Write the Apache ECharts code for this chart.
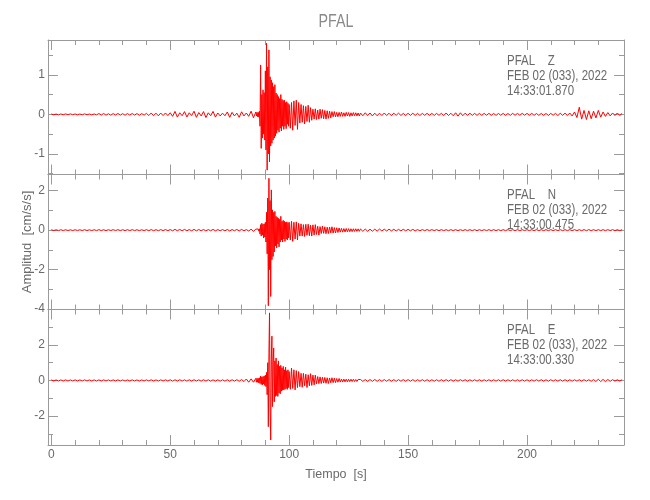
<!DOCTYPE html>
<html><head><meta charset="utf-8">
<script src="https://cdn.jsdelivr.net/npm/echarts@6/dist/echarts.min.js"></script>
<style>html,body{margin:0;padding:0;background:#fff}#c{width:650px;height:500px}</style>
</head><body><div id="c"></div>
<script>
// sampling: start time (s) and step (s) of each of the four data segments
const segStart = [0, 86.25, 100.5, 131];
const segStep  = [1, 0.25, 0.5, 1];

// ---- Z component (cm/s/s) ----
const z1 = [
 0.01,-0.01,0.008,-0.012,0.01,-0.009,0.011,-0.01,0.012,-0.008,
 0.01,-0.011,0.009,-0.01,0.012,-0.01,0.008,-0.011,0.01,-0.012,
 0.02,-0.018,0.022,-0.02,0.015,-0.021,0.019,-0.017,0.022,-0.02,
 0.018,-0.022,0.02,-0.019,0.021,-0.018,0.02,-0.022,0.019,-0.02,
 0.025,-0.03,0.035,-0.032,0.03,-0.036,0.033,-0.03,0.035,-0.031,
 0.04,-0.05,0.075,-0.07,0.04,-0.035,0.07,-0.065,0.04,-0.03,
 0.08,-0.075,0.045,-0.04,0.07,-0.08,0.04,-0.035,0.075,-0.07,
 0.035,-0.04,0.03,-0.035,0.06,-0.075,0.05,-0.04,0.03,-0.075,
 0.065,-0.04,0.035,-0.05,0.08,-0.085,0.06];
const z2 = [
 -0.04,0.05,-0.06,0.05,-0.07,0.08,-0.3,1.25,-0.86,0.5,
 -0.6,0.62,-0.5,0.55,-0.65,1.1,-0.9,1.8,-1.41,1.2,
 -1.0,1.63,-1.2,0.95,-0.8,0.87,-0.73,0.8,-0.65,0.7,
 -0.6,0.75,-0.55,0.54,-0.48,0.5,-0.4,0.45,-0.45,0.4,
 -0.35,0.5,-0.42,0.38,-0.3,0.35,-0.38,0.36,-0.3,0.3,
 -0.36,0.32,-0.25,0.28,-0.3,0.25];
const z3 = [
 -0.35,0.3,-0.4,0.34,-0.28,0.36,-0.38,0.3,-0.22,0.25,
 -0.2,0.22,-0.24,0.2,-0.18,0.23,-0.2,0.17,-0.15,0.13,
 -0.12,0.14,-0.13,0.11,-0.12,0.13,-0.1,0.12,-0.11,0.1,
 -0.12,0.09,-0.1,0.08,-0.09,0.07,-0.06,0.07,-0.06,0.05,
 -0.06,0.05,-0.05,0.06,-0.05,0.04,-0.05,0.05,-0.04,0.045,
 -0.05,0.04,-0.04,0.045,-0.035,0.04,-0.04,0.035,-0.04,0.035];
const z4 = [
 -0.035,0.04,-0.03,0.035,-0.04,0.03,-0.035,0.03,-0.03,0.035,
 -0.03,0.028,-0.032,0.03,-0.025,0.03,-0.028,0.025,-0.03,0.027,
 -0.025,0.028,-0.026,0.025,-0.028,0.024,-0.025,0.026,-0.024,0.025,
 -0.026,0.024,-0.025,0.027,-0.03,0.035,-0.03,0.028,-0.035,0.04,
 -0.045,0.04,-0.035,0.03,-0.025,0.028,-0.025,0.024,-0.026,0.025,
 -0.024,0.025,-0.022,0.025,-0.024,0.022,-0.025,0.023,-0.022,0.024,
 -0.025,0.022,-0.024,0.025,-0.022,0.024,-0.023,0.025,-0.022,0.024,
 -0.023,0.025,-0.024,0.022,-0.025,0.023,-0.024,0.022,-0.025,0.024,
 -0.022,0.025,-0.03,0.028,-0.025,0.03,-0.028,0.035,-0.04,0.06,
 -0.08,0.18,-0.12,0.1,-0.13,0.09,-0.11,0.08,-0.09,0.1,
 -0.07,0.06,-0.05,0.045,-0.04,0.035,-0.03,0.035,-0.03,0.025];

// ---- N component ----
const n1 = [
 0.02,-0.02,0.018,-0.022,0.02,-0.019,0.021,-0.02,0.018,-0.02,
 0.02,-0.021,0.019,-0.02,0.022,-0.02,0.018,-0.021,0.02,-0.022,
 0.025,-0.022,0.02,-0.025,0.022,-0.02,0.024,-0.021,0.025,-0.022,
 0.022,-0.025,0.024,-0.022,0.025,-0.024,0.022,-0.025,0.021,-0.023,
 0.025,-0.028,0.03,-0.027,0.025,-0.03,0.028,-0.025,0.03,-0.026,
 0.03,-0.035,0.04,-0.03,0.035,-0.03,0.04,-0.035,0.03,-0.032,
 0.04,-0.036,0.032,-0.03,0.035,-0.04,0.03,-0.032,0.038,-0.035,
 0.03,-0.032,0.03,-0.034,0.035,-0.04,0.032,-0.03,0.035,-0.038,
 0.04,-0.035,0.03,-0.045,0.05,-0.06,0.05];
const n2 = [
 -0.04,0.05,-0.05,0.06,-0.05,0.07,-0.2,0.28,-0.3,0.35,
 -0.25,0.3,-0.4,0.32,-0.35,0.4,-0.6,0.9,-1.2,1.63,
 -3.83,2.63,-2.0,1.5,-3.36,2.04,-1.5,1.03,-1.33,0.9,
 -1.1,0.95,-0.8,0.7,-0.9,0.65,-0.7,0.6,-0.85,0.55,
 -0.6,0.7,-0.5,0.45,-0.6,0.5,-0.45,0.45,-0.57,0.4,
 -0.45,0.42,-0.5,0.38,-0.4,0.4];
const n3 = [
 -0.5,0.45,-0.57,0.4,-0.45,0.42,-0.5,0.35,-0.3,0.32,
 -0.3,0.28,-0.32,0.3,-0.26,0.3,-0.28,0.25,-0.3,0.27,
 -0.25,0.28,-0.22,0.2,-0.25,0.18,-0.17,0.2,-0.16,0.17,
 -0.18,0.15,-0.17,0.16,-0.14,0.17,-0.15,0.13,-0.14,0.12,
 -0.12,0.11,-0.1,0.09,-0.1,0.08,-0.09,0.085,-0.08,0.075,
 -0.08,0.07,-0.075,0.07,-0.065,0.07,-0.06,0.065,-0.06,0.06];
const n4 = [
 -0.06,0.055,-0.06,0.05,-0.055,0.05,-0.05,0.055,-0.045,0.05,
 -0.045,0.05,-0.04,0.045,-0.045,0.04,-0.04,0.045,-0.035,0.04,
 -0.035,0.04,-0.035,0.03,-0.035,0.03,-0.028,0.03,-0.025,0.028,
 -0.025,0.026,-0.024,0.025,-0.025,0.024,-0.026,0.025,-0.024,0.025,
 -0.025,0.024,-0.025,0.026,-0.024,0.025,-0.025,0.024,-0.026,0.025,
 -0.024,0.025,-0.025,0.024,-0.026,0.025,-0.024,0.025,-0.025,0.024,
 -0.025,0.026,-0.024,0.025,-0.025,0.024,-0.026,0.025,-0.024,0.025,
 -0.025,0.024,-0.025,0.026,-0.024,0.025,-0.025,0.024,-0.026,0.025,
 -0.024,0.025,-0.025,0.024,-0.026,0.025,-0.024,0.025,-0.025,0.024,
 -0.025,0.026,-0.028,0.03,-0.03,0.028,-0.026,0.025,-0.024,0.025,
 -0.025,0.024,-0.025,0.026,-0.024,0.025,-0.025,0.024,-0.026,0.025];

// ---- E component ----
const e1 = [
 0.03,-0.03,0.028,-0.032,0.03,-0.029,0.031,-0.03,0.028,-0.03,
 0.03,-0.031,0.029,-0.03,0.032,-0.03,0.028,-0.031,0.03,-0.032,
 0.03,-0.028,0.032,-0.03,0.029,-0.031,0.03,-0.028,0.032,-0.03,
 0.03,-0.032,0.029,-0.03,0.031,-0.03,0.028,-0.032,0.03,-0.029,
 0.032,-0.03,0.035,-0.032,0.03,-0.035,0.033,-0.03,0.035,-0.031,
 0.035,-0.04,0.038,-0.035,0.04,-0.036,0.035,-0.04,0.038,-0.035,
 0.04,-0.036,0.035,-0.038,0.04,-0.035,0.036,-0.04,0.035,-0.038,
 0.036,-0.04,0.035,-0.038,0.04,-0.042,0.038,-0.04,0.042,-0.045,
 0.05,-0.06,0.08,-0.1,0.09,-0.1,0.12];
const e2 = [
 -0.1,0.12,-0.1,0.12,-0.14,0.15,-0.17,0.25,-0.22,0.2,
 -0.25,0.22,-0.2,0.25,-0.28,0.3,-0.35,0.45,-0.8,1.0,
 -2.6,1.5,3.8,-1.5,-3.35,1.2,2.49,-1.47,1.0,1.83,
 -1.2,1.1,-0.9,1.26,-0.85,0.9,-0.9,1.1,-0.7,0.8,
 -0.75,0.85,-0.6,0.7,-0.55,0.79,-0.53,0.6,-0.5,0.75,
 -0.45,0.55,-0.5,0.6,-0.4,0.5];
const e3 = [
 -0.5,0.7,-0.45,0.6,-0.53,0.55,-0.4,0.5,-0.35,0.4,
 -0.38,0.4,-0.3,0.35,-0.4,0.32,-0.3,0.38,-0.28,0.3,
 -0.25,0.3,-0.2,0.22,-0.18,0.2,-0.17,0.18,-0.15,0.17,
 -0.16,0.15,-0.17,0.14,-0.13,0.15,-0.12,0.13,-0.12,0.11,
 -0.1,0.11,-0.09,0.08,-0.09,0.075,-0.08,0.07,-0.075,0.07,
 -0.065,0.07,-0.06,0.065,-0.06,0.055,-0.06,0.055,-0.05,0.055];
const e4 = [
 -0.055,0.05,-0.055,0.05,-0.05,0.055,-0.05,0.048,-0.05,0.05,
 -0.048,0.05,-0.045,0.048,-0.05,0.045,-0.045,0.05,-0.045,0.048,
 -0.045,0.045,-0.048,0.045,-0.042,0.045,-0.045,0.042,-0.045,0.04,
 -0.042,0.04,-0.045,0.042,-0.04,0.045,-0.04,0.042,-0.04,0.04,
 -0.04,0.042,-0.038,0.04,-0.042,0.038,-0.04,0.04,-0.038,0.04,
 -0.04,0.038,-0.04,0.04,-0.038,0.04,-0.04,0.038,-0.04,0.04,
 -0.038,0.04,-0.04,0.038,-0.04,0.04,-0.038,0.04,-0.04,0.038,
 -0.04,0.038,-0.04,0.04,-0.038,0.04,-0.04,0.038,-0.04,0.04,
 -0.038,0.04,-0.04,0.038,-0.04,0.04,-0.038,0.04,-0.04,0.038,
 -0.04,0.04,-0.038,0.04,-0.042,0.04,-0.045,0.05,-0.06,0.07,
 -0.065,0.06,-0.07,0.055,-0.05,0.045,-0.04,0.04,-0.038,0.04];

// ---- labels / ticks ----
const station = 'PFAL';
const components = ['Z', 'N', 'E'];
const dateText = 'FEB 02 (033), 2022';
const startTimes = ['14:33:01.870', '14:33:00.475', '14:33:00.330'];
const xRange = [-1.4, 240.8];
const xMajor = [0, 50, 100, 150, 200];
const xMinor = [10,20,30,40,60,70,80,90,110,120,130,140,160,170,180,190,210,220,230];
const yRanges = [[-1.52, 1.88], [-4.02, 2.82], [-3.63, 3.99]];
const yMajor = [[-1, 0, 1], [-4, -2, 0, 2], [-2, 0, 2]];
const yMinor = [[-1.5, -0.5, 0.5, 1.5], [-3, -1, 1], [-3, -1, 1, 3]];
const xName = 'Tiempo  [s]';
const yName = 'Amplitud  [cm/s/s]';

const channels = [[z1, z2, z3, z4], [n1, n2, n3, n4], [e1, e2, e3, e4]];
function buildSeries(segs) {
  const out = [];
  segs.forEach((vals, i) => vals.forEach((v, j) => out.push([segStart[i] + j * segStep[i], v])));
  return out;
}

const FONT = "'Liberation Sans', Arial, sans-serif";
const AX = '#9a9a9a', TX = '#6a6a6a';
const gridTops = [40, 174.5, 309.5];
const gridHeights = [134.5, 135, 135.5];

const grids = [], xAxes = [], yAxes = [], series = [], graphics = [];
for (let g = 0; g < 3; g++) {
  grids.push({ left: 48, right: 26, top: gridTops[g], height: gridHeights[g] });
  const xBase = { gridIndex: g, type: 'value', min: xRange[0], max: xRange[1], splitLine: { show: false } };
  ['bottom', 'top'].forEach(pos => {
    xAxes.push(Object.assign({}, xBase, {
      position: pos,
      axisLine: { show: true, onZero: false, lineStyle: { color: AX, width: 1 } },
      axisTick: { show: true, inside: true, length: 10, customValues: xMajor, lineStyle: { color: AX } },
      axisLabel: (pos === 'bottom' && g === 2)
        ? { show: true, customValues: xMajor, color: TX, fontSize: 12, fontFamily: FONT, margin: 4 }
        : { show: false },
      name: (pos === 'bottom' && g === 2) ? xName : '',
      nameLocation: 'middle', nameGap: 23, nameMoveOverlap: false,
      nameTextStyle: { color: TX, fontSize: 12.5, fontFamily: FONT }
    }));
    xAxes.push(Object.assign({}, xBase, {
      position: pos,
      axisLine: { show: false, onZero: false },
      axisTick: { show: true, inside: true, length: 5, customValues: xMinor, lineStyle: { color: AX } },
      axisLabel: { show: false }
    }));
  });
  const yBase = { gridIndex: g, type: 'value', min: yRanges[g][0], max: yRanges[g][1], splitLine: { show: false } };
  ['left', 'right'].forEach(pos => {
    yAxes.push(Object.assign({}, yBase, {
      position: pos,
      axisLine: { show: true, onZero: false, lineStyle: { color: AX, width: 1 } },
      axisTick: { show: true, inside: true, length: 10, customValues: yMajor[g], lineStyle: { color: AX } },
      axisLabel: pos === 'left'
        ? { show: true, customValues: yMajor[g], color: TX, fontSize: 12, fontFamily: FONT, margin: 3 }
        : { show: false },
      name: (pos === 'left' && g === 1) ? yName : '',
      nameLocation: 'middle', nameGap: 14, nameRotate: 90, nameMoveOverlap: false,
      nameTextStyle: { color: TX, fontSize: 13, fontFamily: FONT }
    }));
    yAxes.push(Object.assign({}, yBase, {
      position: pos,
      axisLine: { show: false, onZero: false },
      axisTick: { show: true, inside: true, length: 5, customValues: yMinor[g], lineStyle: { color: AX } },
      axisLabel: { show: false }
    }));
  });
  series.push({
    type: 'line', xAxisIndex: g * 4, yAxisIndex: g * 4,
    data: buildSeries(channels[g]),
    showSymbol: false, symbol: 'none', sampling: null, clip: true,
    lineStyle: { color: '#ff0000', width: 1 }, silent: true, z: 1
  });
  const lines = [station + '    ' + components[g], dateText, startTimes[g]];
  lines.forEach((t, k) => graphics.push({
    type: 'text', x: 507, y: gridTops[g] + 21 + k * 15, scaleX: 0.82, silent: true,
    style: { text: t, fill: TX, font: '14px ' + FONT, align: 'left', verticalAlign: 'middle',
             textAlign: 'left', textVerticalAlign: 'middle' }
  }));
}
graphics.push({
  type: 'text', x: 336, y: 22, scaleX: 0.75, silent: true,
  style: { text: station, fill: '#8a8a8a', font: '19px ' + FONT, align: 'center', verticalAlign: 'middle',
           textAlign: 'center', textVerticalAlign: 'middle' }
});

const chart = echarts.init(document.getElementById('c'), null, { renderer: 'canvas' });
chart.setOption({
  animation: false,
  backgroundColor: '#ffffff',
  grid: grids, xAxis: xAxes, yAxis: yAxes, series: series, graphic: graphics
});
</script>
</body></html>
